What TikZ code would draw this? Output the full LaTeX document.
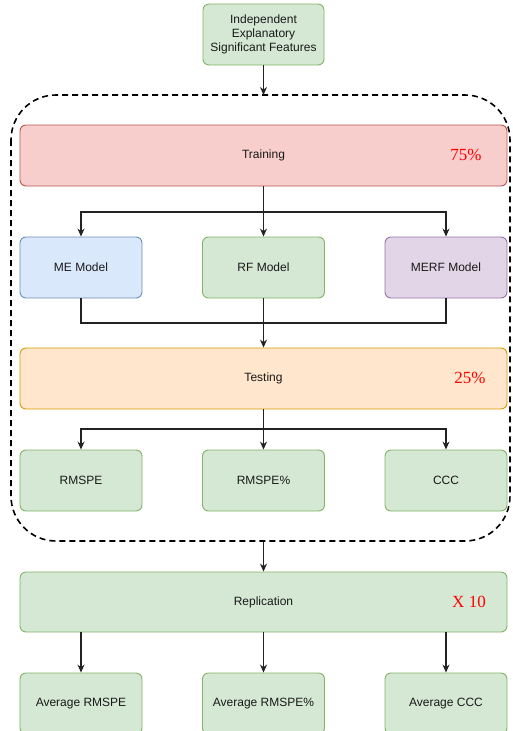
\documentclass[tikz,border=0pt]{standalone}
\usepackage{fontspec}
\setmainfont{Liberation Sans}
\newfontfamily\pctfont{Liberation Serif}
\usetikzlibrary{arrows.meta}
\definecolor{gfill}{HTML}{D5E8D4}\definecolor{gdraw}{HTML}{82B366}
\definecolor{bfill}{HTML}{DAE8FC}\definecolor{bdraw}{HTML}{6C8EBF}
\definecolor{pfill}{HTML}{E1D5E7}\definecolor{pdraw}{HTML}{9673A6}
\definecolor{rfill}{HTML}{F8CECC}\definecolor{rdraw}{HTML}{B85450}
\definecolor{ofill}{HTML}{FFE6CC}\definecolor{odraw}{HTML}{D79B00}
\definecolor{lncol}{HTML}{222222}
\begin{document}
\begin{tikzpicture}[x=1pt,y=-1pt,
  box/.style={rounded corners=6pt,line width=0.9pt,inner sep=0pt,align=center,
    font=\fontsize{12}{14}\selectfont,text=black!90},
  small/.style={box,minimum width=122pt,minimum height=61pt},
  wide/.style={box,minimum width=487pt,minimum height=61pt},
  green/.style={fill=gfill,draw=gdraw},
  pct/.style={text=red,font=\pctfont\fontsize{17}{19}\selectfont,inner sep=0pt},
  arr/.style={draw=lncol,line width=1.1pt,-{Stealth[length=8pt,width=7pt]}},
  ln/.style={draw=lncol,line width=1.1pt}]
\useasboundingbox (0,0) rectangle (512,731);
% group
\draw[line width=1.6pt,dash pattern=on 6pt off 4pt,rounded corners=45pt] (11,95) rectangle (510,541);
\coordinate (gtop) at (263.5,95);
\coordinate (gbot) at (263.5,541);
\node[box,green,minimum width=121pt,minimum height=61pt] (feat) at (263.5,34.5) {Independent\\Explanatory\\Significant Features};
\node[wide,fill=rfill,draw=rdraw] (train) at (263.5,155.5) {Training};
\node[pct] (p75) at (466,155) {75\%};
\node[small,fill=bfill,draw=bdraw] (me) at (81,267.5) {ME Model};
\node[small,green] (rf) at (263.5,267.5) {RF Model};
\node[small,fill=pfill,draw=pdraw] (merf) at (446,267.5) {MERF Model};
\node[wide,fill=ofill,draw=odraw] (test) at (263.5,378.5) {Testing};
\node[pct] (p25) at (470,378) {25\%};
\node[small,green] (rmspe) at (81,480.5) {RMSPE};
\node[small,green] (rmspep) at (263.5,480.5) {RMSPE\%};
\node[small,green] (ccc) at (446,480.5) {CCC};
\node[box,green,minimum width=487pt,minimum height=60pt] (rep) at (263.5,602) {Replication};
\node[pct] (x10) at (469,602) {X 10};
\node[small,green] (armspe) at (81,703.5) {Average RMSPE};
\node[small,green] (armspep) at (263.5,703.5) {Average RMSPE\%};
\node[small,green] (accc) at (446,703.5) {Average CCC};
% connectors
\draw[arr] (feat.south) -- (gtop);
\coordinate (b1) at (263.5,212);
\draw[ln] (train.south) -- (b1);
\draw[arr] (b1) -| (me.north);
\draw[arr] (b1) -| (merf.north);
\draw[arr] (b1) -- (rf.north);
\coordinate (m1) at (263.5,323);
\draw[ln] (me.south) |- (m1);
\draw[ln] (merf.south) |- (m1);
\draw[arr] (rf.south) -- (test.north);
\coordinate (b2) at (263.5,429);
\draw[ln] (test.south) -- (b2);
\draw[arr] (b2) -| (rmspe.north);
\draw[arr] (b2) -| (ccc.north);
\draw[arr] (b2) -- (rmspep.north);
\draw[arr] (gbot) -- (rep.north);
\draw[arr] (rep.south -| armspe.north) -- (armspe.north);
\draw[arr] (rep.south) -- (armspep.north);
\draw[arr] (rep.south -| accc.north) -- (accc.north);
\end{tikzpicture}
\end{document}
